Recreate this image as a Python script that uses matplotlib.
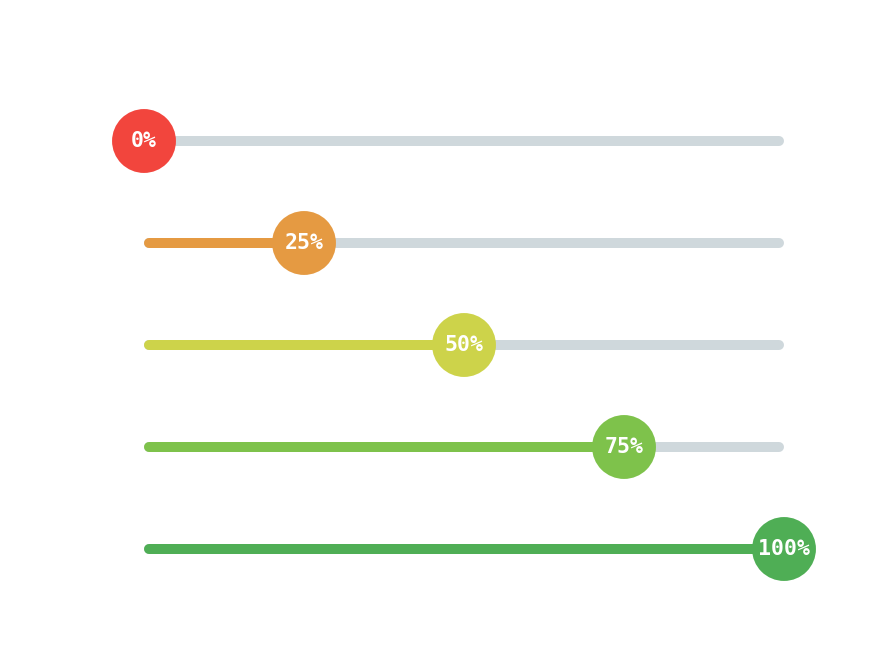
import matplotlib
matplotlib.use('Agg')
import matplotlib.pyplot as plt

values = [0, 25, 50, 75, 100]
labels = ['0%', '25%', '50%', '75%', '100%']
colors = ['#F2453D', '#E59A42', '#CDD34A', '#7EC24B', '#4FAE55']
track_color = '#CFD8DC'

fig = plt.figure(figsize=(8.76, 6.48), dpi=100)
ax = fig.add_axes([144 / 876, 48 / 648, 640 / 876, 510 / 648])
ax.set_xlim(0, 100)
ax.set_ylim(len(values) - 0.5, -0.5)
ax.axis('off')

for i, (v, lab, c) in enumerate(zip(values, labels, colors)):
    # grey track, then coloured progress part (round caps, so inset a bit)
    ax.plot([0.8, 99.2], [i, i], color=track_color, lw=7.2, solid_capstyle='round',
            zorder=1, clip_on=False)
    if v > 0:
        ax.plot([0.8, v], [i, i], color=c, lw=7.2, solid_capstyle='round', zorder=2,
                clip_on=False)
    ax.scatter([v], [i], s=46 ** 2, color=c, edgecolors='none', zorder=3, clip_on=False)
    ax.text(v, i, lab, ha='center', va='center', color='white', fontsize=15.5,
            fontweight='bold', family='DejaVu Sans Mono', zorder=4)

fig.savefig('out.png', dpi=100)
